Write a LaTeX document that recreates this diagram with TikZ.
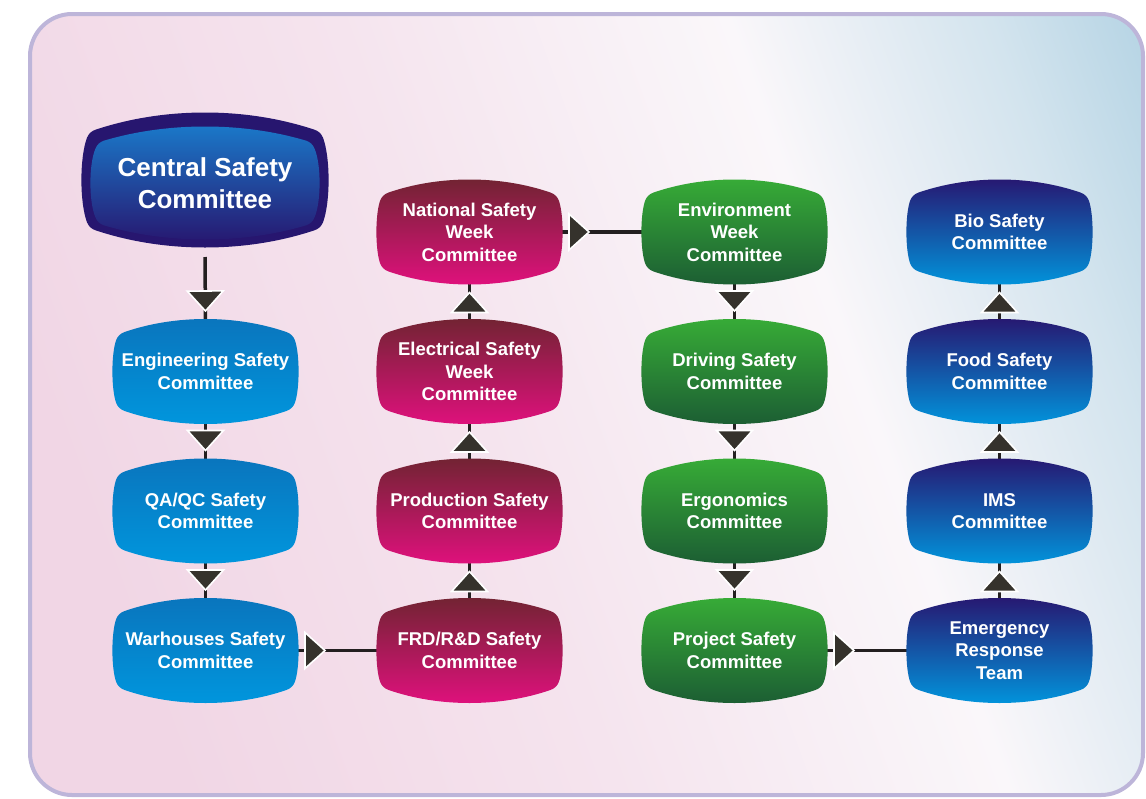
\documentclass[tikz,border=0pt]{standalone}
\usepackage{fontspec}
\setmainfont{Liberation Sans}
\usetikzlibrary{decorations.markings}

% palette
\definecolor{frameclr}{HTML}{BDB5D9}
\definecolor{wallpinkA}{HTML}{F1D6E5}
\definecolor{wallpinkB}{HTML}{F5E4EE}
\definecolor{wallwhite}{HTML}{FAF7FA}
\definecolor{wallblueA}{HTML}{D3E4EE}
\definecolor{wallblueB}{HTML}{B2D2E3}
\definecolor{c1top}{HTML}{0A74BC}
\definecolor{c1bot}{HTML}{0097DE}
\definecolor{c2top}{HTML}{6E2430}
\definecolor{c2bot}{HTML}{E3107F}
\definecolor{c3top}{HTML}{38AE37}
\definecolor{c3bot}{HTML}{1B5B33}
\definecolor{c4top}{HTML}{28146E}
\definecolor{c4bot}{HTML}{0098DF}
\definecolor{navy}{HTML}{27166F}
\definecolor{glowblue}{HTML}{1A7BCB}
\definecolor{tri}{HTML}{35322C}
\definecolor{linkclr}{HTML}{231F20}

\pgfdeclarehorizontalshading{wallshade}{100bp}{%
  color(0bp)=(wallpinkA); color(25bp)=(wallpinkA); color(45bp)=(wallpinkB);
  color(63bp)=(wallwhite); color(75bp)=(wallblueA); color(83bp)=(wallblueB);
  color(100bp)=(wallblueB)}

% barrel: a box whose four sides bow outwards, with softened corners
\makeatletter
\def\brl@pt#1#2{\pgfqpoint{\dimexpr#1\relax}{\dimexpr#2\relax}}
\pgfdeclareshape{barrel}{%
  \inheritsavedanchors[from=rectangle]%
  \inheritanchorborder[from=rectangle]%
  \inheritanchor[from=rectangle]{center}%
  \inheritanchor[from=rectangle]{mid}%
  \inheritanchor[from=rectangle]{base}%
  \inheritanchor[from=rectangle]{north}%
  \inheritanchor[from=rectangle]{south}%
  \inheritanchor[from=rectangle]{east}%
  \inheritanchor[from=rectangle]{west}%
  \inheritanchor[from=rectangle]{north east}%
  \inheritanchor[from=rectangle]{north west}%
  \inheritanchor[from=rectangle]{south east}%
  \inheritanchor[from=rectangle]{south west}%
  \backgroundpath{%
    \southwest \edef\brl@xa{\the\pgf@x}\edef\brl@ya{\the\pgf@y}%
    \northeast \edef\brl@xb{\the\pgf@x}\edef\brl@yb{\the\pgf@y}%
    \pgf@x=\dimexpr(\brl@yb-\brl@ya)*14/100\relax \edef\brl@b{\the\pgf@x}%
    \pgf@x=\dimexpr(\brl@xb-\brl@xa)*3/100\relax \edef\brl@s{\the\pgf@x}%
    \pgf@x=\dimexpr(\brl@xb-\brl@xa)/3\relax \edef\brl@w{\the\pgf@x}%
    \pgf@x=\dimexpr(\brl@yb-\brl@ya)/3\relax \edef\brl@h{\the\pgf@x}%
    \def\brl@c{6pt}%
    \pgfpathmoveto{\brl@pt{\brl@xa+\brl@s+\brl@c}{\brl@yb-\brl@b+\brl@c/3}}%
    \pgfpathcurveto{\brl@pt{\brl@xa+\brl@w}{\brl@yb+\brl@b/3}}%
                   {\brl@pt{\brl@xb-\brl@w}{\brl@yb+\brl@b/3}}%
                   {\brl@pt{\brl@xb-\brl@s-\brl@c}{\brl@yb-\brl@b+\brl@c/3}}%
    \pgfpathquadraticcurveto{\brl@pt{\brl@xb-\brl@s}{\brl@yb-\brl@b}}%
                   {\brl@pt{\brl@xb-\brl@s+\brl@c*4/10}{\brl@yb-\brl@b-\brl@c}}%
    \pgfpathcurveto{\brl@pt{\brl@xb+\brl@s/3}{\brl@yb-\brl@h}}%
                   {\brl@pt{\brl@xb+\brl@s/3}{\brl@ya+\brl@h}}%
                   {\brl@pt{\brl@xb-\brl@s+\brl@c*4/10}{\brl@ya+\brl@b+\brl@c}}%
    \pgfpathquadraticcurveto{\brl@pt{\brl@xb-\brl@s}{\brl@ya+\brl@b}}%
                   {\brl@pt{\brl@xb-\brl@s-\brl@c}{\brl@ya+\brl@b-\brl@c/3}}%
    \pgfpathcurveto{\brl@pt{\brl@xb-\brl@w}{\brl@ya-\brl@b/3}}%
                   {\brl@pt{\brl@xa+\brl@w}{\brl@ya-\brl@b/3}}%
                   {\brl@pt{\brl@xa+\brl@s+\brl@c}{\brl@ya+\brl@b-\brl@c/3}}%
    \pgfpathquadraticcurveto{\brl@pt{\brl@xa+\brl@s}{\brl@ya+\brl@b}}%
                   {\brl@pt{\brl@xa+\brl@s-\brl@c*4/10}{\brl@ya+\brl@b+\brl@c}}%
    \pgfpathcurveto{\brl@pt{\brl@xa-\brl@s/3}{\brl@ya+\brl@h}}%
                   {\brl@pt{\brl@xa-\brl@s/3}{\brl@yb-\brl@h}}%
                   {\brl@pt{\brl@xa+\brl@s-\brl@c*4/10}{\brl@yb-\brl@b-\brl@c}}%
    \pgfpathquadraticcurveto{\brl@pt{\brl@xa+\brl@s}{\brl@yb-\brl@b}}%
                   {\brl@pt{\brl@xa+\brl@s+\brl@c}{\brl@yb-\brl@b+\brl@c/3}}%
    \pgfpathclose
  }%
}
\makeatother

\pgfdeclarelayer{wall}
\pgfdeclarelayer{links}
\pgfsetlayers{wall,links,main}

\tikzset{
  box/.style={shape=barrel, minimum width=185pt, minimum height=104pt,
    inner sep=0pt, outer sep=0pt, align=center, text=white,
    font=\bfseries\fontsize{18.5}{22.5}\selectfont},
  engbox/.style={box, top color=c1top, bottom color=c1bot},
  prodbox/.style={box, top color=c2top, bottom color=c2bot},
  envbox/.style={box, top color=c3top, bottom color=c3bot},
  biobox/.style={box, top color=c4top, bottom color=c4bot},
  link/.style={draw=linkclr, line width=3.5pt,
    postaction={decorate, decoration={markings, mark=at position #1 with {
      \filldraw[fill=tri, draw=white, line width=1.6pt]
        (-10,-18) -- (10,0) -- (-10,18) -- cycle;}}}},
  link/.default=17pt,
}

\begin{document}
\begin{tikzpicture}[x=1pt, y=1pt]
\useasboundingbox (0,0) rectangle (1146,-798);

% panel behind everything
\begin{pgfonlayer}{wall}
  \shade[shading=wallshade, shading angle=20, rounded corners=42pt]
    (30,-14) rectangle (1143,-795);
  \draw[frameclr, line width=4pt, rounded corners=42pt]
    (30,-14) rectangle (1143,-795);
\end{pgfonlayer}

% central committee: dark body with a glossy inner panel
\node[shape=barrel, minimum width=246pt, minimum height=134pt,
      inner sep=0pt, outer sep=0pt, fill=navy] (central) at (205,-180) {};
\node[shape=barrel, minimum width=228pt, minimum height=112pt,
      inner sep=0pt, outer sep=0pt, top color=glowblue, middle color=navy,
      bottom color=navy, align=center, text=white,
      font=\bfseries\fontsize{26}{32}\selectfont]
      (centraltext) at (205,-183) {Central Safety\\Committee};

% first column
\node[engbox] (eng) at (205.5,-371.5) {Engineering Safety\\Committee};
\node[engbox] (qa)  at (205.5,-511)   {QA/QC Safety\\Committee};
\node[engbox] (war) at (205.5,-650.5) {Warhouses Safety\\Committee};

% second column
\node[prodbox] (frd)  at (469.5,-650.5) {FRD/R\&D Safety\\Committee};
\node[prodbox] (prod) at (469.5,-511)   {Production Safety\\Committee};
\node[prodbox] (elec) at (469.5,-371.5) {Electrical Safety\\Week\\Committee};
\node[prodbox] (nat)  at (469.5,-232)   {National Safety\\Week\\Committee};

% third column
\node[envbox] (env)  at (734.5,-232)   {Environment\\Week\\Committee};
\node[envbox] (drv)  at (734.5,-371.5) {Driving Safety\\Committee};
\node[envbox] (erg)  at (734.5,-511)   {Ergonomics\\Committee};
\node[envbox] (proj) at (734.5,-650.5) {Project Safety\\Committee};

% fourth column
\node[biobox] (emr)  at (999.5,-650.5) {Emergency\\Response\\Team};
\node[biobox] (ims)  at (999.5,-511)   {IMS\\Committee};
\node[biobox] (food) at (999.5,-371.5) {Food Safety\\Committee};
\node[biobox] (bio)  at (999.5,-232)   {Bio Safety\\Committee};

\coordinate (cstart) at ([yshift=-10pt]central.south);

\begin{pgfonlayer}{links}
  \draw[link=44pt] (cstart) -- (eng.north);
  \draw[link] (eng.south) -- (qa.north);
  \draw[link] (qa.south) -- (war.north);
  \draw[link] (war.east) -- (frd.west);
  \draw[link] (frd.north) -- (prod.south);
  \draw[link] (prod.north) -- (elec.south);
  \draw[link] (elec.north) -- (nat.south);
  \draw[link] (nat.east) -- (env.west);
  \draw[link] (env.south) -- (drv.north);
  \draw[link] (drv.south) -- (erg.north);
  \draw[link] (erg.south) -- (proj.north);
  \draw[link] (proj.east) -- (emr.west);
  \draw[link] (emr.north) -- (ims.south);
  \draw[link] (ims.north) -- (food.south);
  \draw[link] (food.north) -- (bio.south);
\end{pgfonlayer}
\end{tikzpicture}
\end{document}
